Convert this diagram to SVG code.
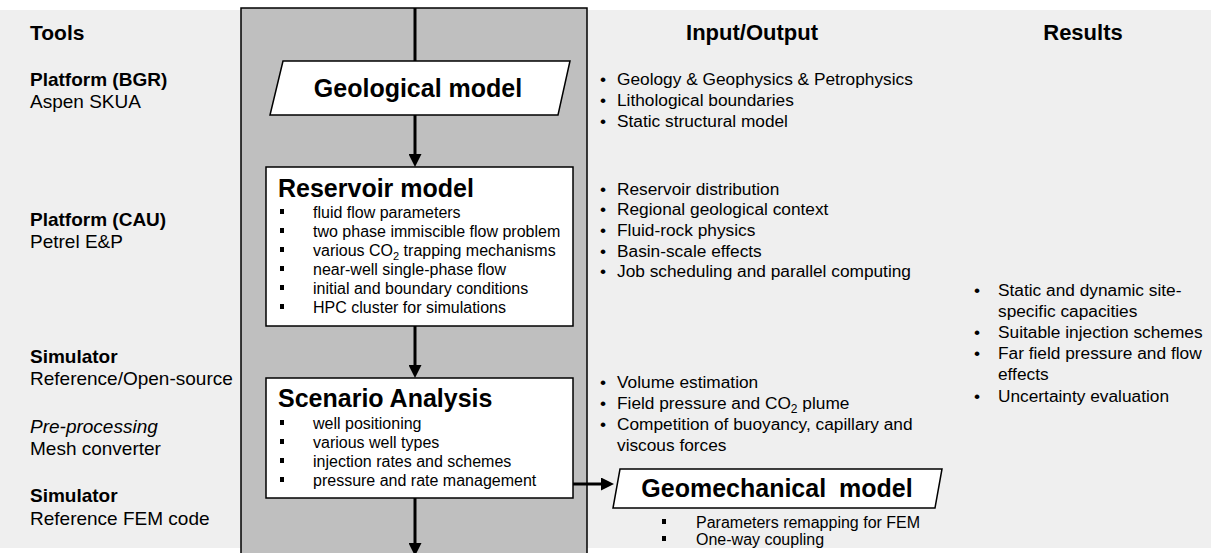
<svg xmlns="http://www.w3.org/2000/svg" width="1211" height="553" viewBox="0 0 1211 553">
<defs>
<marker id="ah" viewBox="0 0 13 13" refX="3" refY="6.5" markerWidth="13" markerHeight="13" markerUnits="userSpaceOnUse" orient="auto"><path d="M0,0 L13,6.5 L0,13 z" fill="#000"/></marker>
<style>
text{font-family:"Liberation Sans",Arial,sans-serif;fill:#000}
.hd{font-size:22px;font-weight:bold}
.tb{font-size:19px;font-weight:bold}
.tr{font-size:19px}
.ti{font-size:19px;font-style:italic}
.ttl{font-size:25px;font-weight:bold}
.bl{font-size:16px}
.io{font-size:17.3px}
.box{fill:#fff;stroke:#000;stroke-width:1.5}
.sq{fill:#000}
.cn{stroke:#000;stroke-width:3;fill:none}
</style>
</defs>
<rect x="0" y="0" width="1211" height="553" fill="#fff"/>
<rect x="0" y="10" width="1211" height="538" fill="#efefef"/>
<rect id="panel" x="241" y="8" width="346" height="550" fill="#bfbfbf" stroke="#000" stroke-width="1.5"/>

<g id="tools">
<text class="hd" x="30" y="40" style="font-size:21px">Tools</text>
<text class="tb" x="30" y="86">Platform (BGR)</text>
<text class="tr" x="30" y="108">Aspen SKUA</text>
<text class="tb" x="30" y="226">Platform (CAU)</text>
<text class="tr" x="30" y="248">Petrel E&amp;P</text>
<text class="tb" x="30" y="363">Simulator</text>
<text class="tr" x="30" y="385">Reference/Open-source</text>
<text class="ti" x="30" y="433">Pre-processing</text>
<text class="tr" x="30" y="455">Mesh converter</text>
<text class="tb" x="30" y="502">Simulator</text>
<text class="tr" x="30" y="525">Reference FEM code</text>
</g>

<g id="connectors">
<line class="cn" x1="415" y1="8" x2="415" y2="61"/>
<line class="cn" x1="415" y1="115" x2="415" y2="157" marker-end="url(#ah)"/>
<line class="cn" x1="415" y1="326" x2="415" y2="368" marker-end="url(#ah)"/>
<line class="cn" x1="415" y1="498" x2="415" y2="546" marker-end="url(#ah)"/>
<line class="cn" x1="573" y1="484" x2="604" y2="484" marker-end="url(#ah)"/>
</g>

<g id="geological">
<polygon class="box" points="283,61 570,61 558,115 270,115"/>
<text class="ttl" x="418" y="97" text-anchor="middle">Geological model</text>
</g>

<g id="reservoir">
<rect class="box" x="266" y="167" width="307" height="159"/>
<text class="ttl" x="278" y="197">Reservoir model</text>
<rect class="sq" x="280" y="209" width="4" height="5"/>
<rect class="sq" x="280" y="228" width="4" height="5"/>
<rect class="sq" x="280" y="247" width="4" height="5"/>
<rect class="sq" x="280" y="266" width="4" height="5"/>
<rect class="sq" x="280" y="285" width="4" height="5"/>
<rect class="sq" x="280" y="304" width="4" height="5"/>
<text class="bl" x="313" y="218">fluid flow parameters</text>
<text class="bl" x="313" y="237">two phase immiscible flow problem</text>
<text class="bl" x="313" y="256">various CO<tspan font-size="11" dy="4">2</tspan><tspan dy="-4"> trapping mechanisms</tspan></text>
<text class="bl" x="313" y="275">near-well single-phase flow</text>
<text class="bl" x="313" y="294">initial and boundary conditions</text>
<text class="bl" x="313" y="313">HPC cluster for simulations</text>
</g>

<g id="scenario">
<rect class="box" x="266" y="378" width="307" height="120"/>
<text class="ttl" x="278" y="407">Scenario Analysis</text>
<rect class="sq" x="280" y="420" width="4" height="5"/>
<rect class="sq" x="280" y="439" width="4" height="5"/>
<rect class="sq" x="280" y="458" width="4" height="5"/>
<rect class="sq" x="280" y="477" width="4" height="5"/>
<text class="bl" x="313" y="429">well positioning</text>
<text class="bl" x="313" y="448">various well types</text>
<text class="bl" x="313" y="467">injection rates and schemes</text>
<text class="bl" x="313" y="486">pressure and rate management</text>
</g>

<g id="geomechanical">
<polygon class="box" points="620,469 942,469 935,508 613,508"/>
<text class="ttl" x="777" y="497" text-anchor="middle" word-spacing="6">Geomechanical model</text>
<rect class="sq" x="662" y="519" width="4" height="5"/>
<rect class="sq" x="662" y="536" width="4" height="5"/>
<text class="bl" x="696" y="528">Parameters remapping for FEM</text>
<text class="bl" x="696" y="545">One-way coupling</text>
</g>

<g id="io">
<text class="hd" x="752" y="40" text-anchor="middle">Input/Output</text>
<text class="io" x="600" y="85">•</text><text class="io" x="617" y="85">Geology &amp; Geophysics &amp; Petrophysics</text>
<text class="io" x="600" y="106">•</text><text class="io" x="617" y="106">Lithological boundaries</text>
<text class="io" x="600" y="127">•</text><text class="io" x="617" y="127">Static structural model</text>
<text class="io" x="600" y="195">•</text><text class="io" x="617" y="195">Reservoir distribution</text>
<text class="io" x="600" y="215">•</text><text class="io" x="617" y="215">Regional geological context</text>
<text class="io" x="600" y="236">•</text><text class="io" x="617" y="236">Fluid-rock physics</text>
<text class="io" x="600" y="257">•</text><text class="io" x="617" y="257">Basin-scale effects</text>
<text class="io" x="600" y="277">•</text><text class="io" x="617" y="277">Job scheduling and parallel computing</text>
<text class="io" x="600" y="388">•</text><text class="io" x="617" y="388">Volume estimation</text>
<text class="io" x="600" y="409">•</text><text class="io" x="617" y="409">Field pressure and CO<tspan font-size="12" dy="4">2</tspan><tspan dy="-4"> plume</tspan></text>
<text class="io" x="600" y="430">•</text><text class="io" x="617" y="430">Competition of buoyancy, capillary and</text>
<text class="io" x="617" y="451">viscous forces</text>
</g>

<g id="results">
<text class="hd" x="1083" y="40" text-anchor="middle">Results</text>
<text class="io" x="974" y="296">•</text><text class="io" x="998" y="296">Static and dynamic site-</text>
<text class="io" x="998" y="317">specific capacities</text>
<text class="io" x="974" y="338">•</text><text class="io" x="998" y="338">Suitable injection schemes</text>
<text class="io" x="974" y="359">•</text><text class="io" x="998" y="359">Far field pressure and flow</text>
<text class="io" x="998" y="380">effects</text>
<text class="io" x="974" y="402">•</text><text class="io" x="998" y="402">Uncertainty evaluation</text>
</g>
</svg>
